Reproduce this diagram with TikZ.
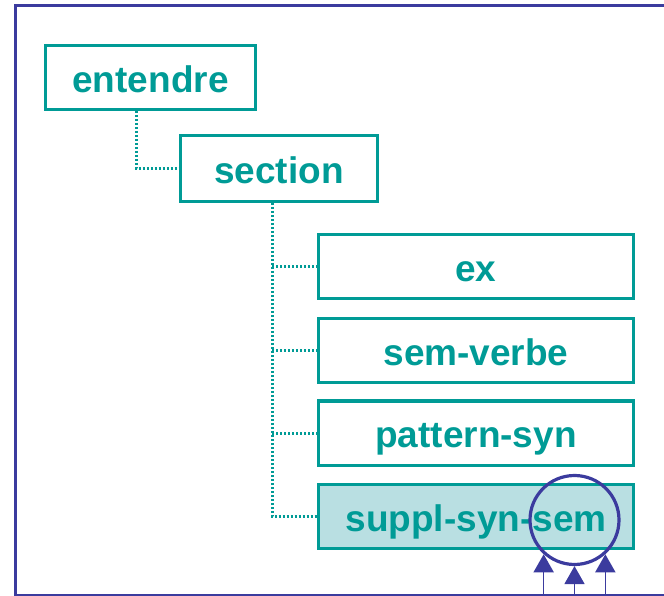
\documentclass[tikz,border=0pt]{standalone}
\usepackage{fontspec}
\setmainfont{Liberation Sans}
\usetikzlibrary{arrows.meta,calc}
\definecolor{teal2}{HTML}{009B96}
\definecolor{frameblue}{HTML}{3B3B9E}
\definecolor{lightfill}{HTML}{B9DFE2}
\begin{document}
\begin{tikzpicture}[x=1pt,y=1pt,
  box/.style={draw=teal2, line width=3pt, text=teal2, font=\bfseries\fontsize{37}{40}\selectfont,
    inner sep=0pt, text height=29.5pt, text depth=0pt, minimum height=64pt},
  leaf/.style={box, minimum width=315pt},
  dotline/.style={teal2, line width=3pt, dash pattern=on 2pt off 2pt},
  arr/.style={draw=frameblue, line width=1.6pt, -{Triangle[width=20pt,length=18pt]}, fill=frameblue},
  ring/.style={draw=frameblue, line width=3.2pt, circle, minimum size=89pt, inner sep=0pt}]
\useasboundingbox (0,0) rectangle (664,595);
\clip (0,0) rectangle (664,595);
% frame
\draw[frameblue, line width=3pt] (720,589.5) -- (15,589.5) -- (15,-0.5) -- (720,-0.5);
% nodes
\node[box, minimum width=210pt] (entendre) at (150.5,517.5) {entendre};
\node[box, minimum width=197pt, minimum height=66pt] (section) at (279,426.5) {section};
\node[leaf] (ex) at (476,328.5) {ex};
\node[leaf] (semverbe) at (476,244.5) {sem-verbe};
\node[leaf] (pattern) at (476,162) {pattern-syn};
\node[leaf, fill=lightfill] (suppl) at (476,78.5) {suppl-syn-sem};
% tree connectors
\coordinate (t1) at ([xshift=-14.5pt]entendre.south);
\draw[dotline] (t1) |- (section.west);
\coordinate (t2) at ([xshift=-7pt]section.south);
\draw[dotline] (t2) |- (suppl.west);
\foreach \n in {ex,semverbe,pattern} \draw[dotline] (t2 |- \n.west) -- (\n.west);
% circle and arrows
\node[ring] (circ) at (574.5,75) {};
\coordinate (b1) at (circ.228 |- 0,0);
\coordinate (b2) at (circ.south |- 0,0);
\coordinate (b3) at (circ.312 |- 0,0);
\draw[arr] (b1) -- (circ.228);
\draw[arr] (b2) -- (circ.south);
\draw[arr] (b3) -- (circ.312);
\end{tikzpicture}
\end{document}
